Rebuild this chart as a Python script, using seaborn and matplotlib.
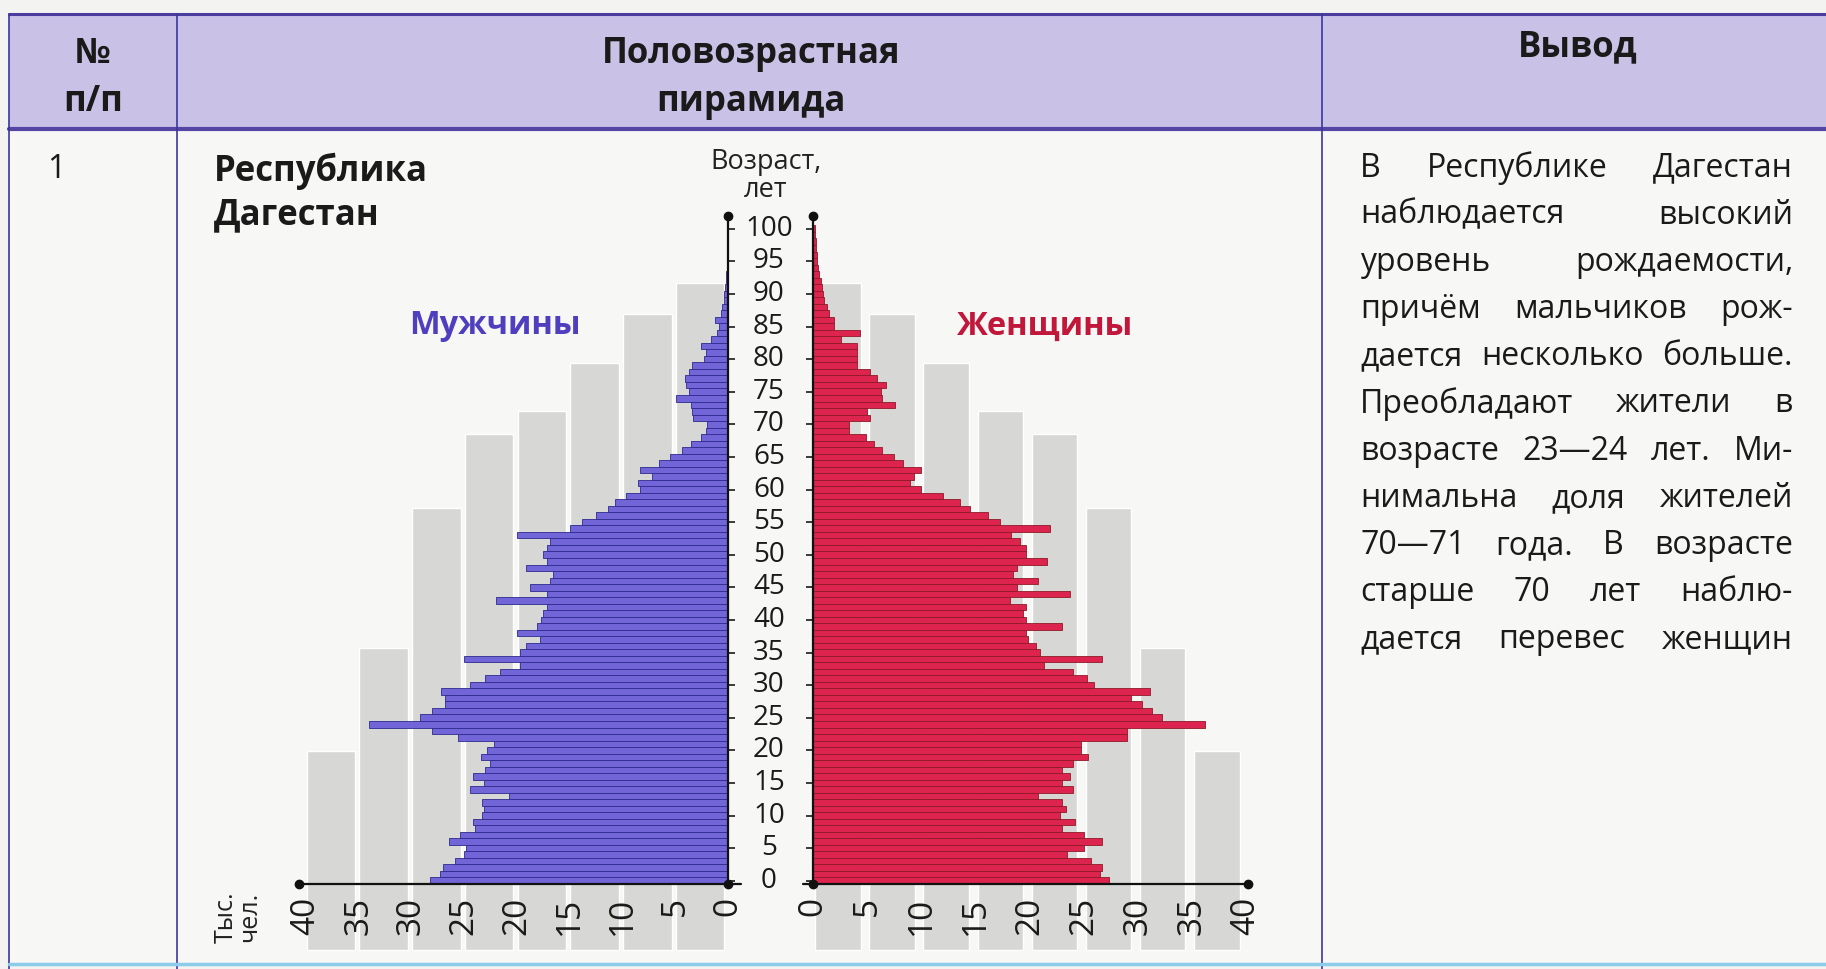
import numpy as np
import pandas as pd
import seaborn as sns
import matplotlib
matplotlib.use('Agg')
import matplotlib.pyplot as plt
from matplotlib import transforms
from matplotlib.patches import Rectangle

# --- data (thousand people per one-year age group)
ages = list(range(101))
male = [28.2, 27.3, 27.0, 25.9, 25.0, 24.8, 26.4, 25.4, 24.0, 24.2,
        23.3, 23.1, 23.3, 20.8, 24.5, 23.1, 24.2, 23.0, 22.6, 23.4,
        22.8, 22.2, 25.6, 28.1, 34.0, 29.2, 28.1, 26.8, 26.8, 27.2,
        24.5, 23.0, 21.6, 19.7, 25.0, 19.7, 19.1, 17.8, 20.0, 18.1,
        17.7, 17.5, 17.2, 22.0, 17.2, 18.8, 16.9, 16.6, 19.1, 17.2,
        17.5, 17.2, 16.9, 20.0, 15.0, 13.8, 12.5, 11.4, 10.7, 9.7,
        8.3, 8.5, 7.2, 8.3, 6.5, 5.5, 4.4, 3.5, 2.6, 2.1,
        2.0, 3.3, 3.4, 3.5, 4.9, 3.7, 4.0, 4.1, 3.7, 3.4,
        2.3, 2.1, 2.6, 1.6, 1.0, 0.9, 1.2, 0.7, 0.6, 0.4,
        0.35, 0.3, 0.2, 0.15, 0.1, 0.1, 0.1, 0.05, 0.05, 0.05, 0.05]
female = [27.3, 26.5, 26.7, 25.7, 23.5, 25.0, 26.7, 25.0, 23.0, 24.2,
          22.8, 23.4, 23.0, 20.8, 24.0, 23.0, 23.7, 23.0, 24.0, 25.4,
          24.8, 24.8, 29.0, 29.0, 36.2, 32.2, 31.3, 30.4, 29.4, 31.1,
          26.0, 25.3, 24.0, 21.3, 26.7, 21.0, 20.6, 19.9, 19.7, 23.0,
          19.7, 19.4, 19.7, 18.2, 23.7, 18.8, 20.8, 18.5, 18.8, 21.6,
          19.7, 19.7, 19.1, 18.3, 21.9, 17.3, 16.2, 14.5, 13.6, 12.0,
          10.0, 9.0, 9.3, 10.0, 8.3, 7.5, 6.4, 5.6, 4.9, 3.3,
          3.3, 5.3, 5.0, 7.6, 6.4, 6.3, 6.7, 5.9, 5.3, 4.1,
          4.1, 4.1, 4.1, 2.6, 4.3, 1.9, 1.9, 1.5, 1.3, 1.0,
          0.9, 0.8, 0.7, 0.6, 0.5, 0.4, 0.4, 0.3, 0.3, 0.2, 0.2]
x_ticks = [0, 5, 10, 15, 20, 25, 30, 35, 40]
age_ticks = list(range(0, 101, 5))
# decorative grey columns behind the pyramid: 5-unit bands and their top age
col_start = [0, 5, 10, 15, 20, 25, 30, 35]
col_top = [91.7, 86.9, 79.4, 72.0, 68.5, 57.2, 35.7, 19.9]

head_num = '№\nп/п'
head_pyr = 'Половозрастная\nпирамида'
head_out = 'Вывод'
region = 'Республика\nДагестан'
summary = ['В Республике Дагестан',
           'наблюдается высокий',
           'уровень рождаемости,',
           'причём мальчиков рож-',
           'дается несколько больше.',
           'Преобладают жители в',
           'возрасте 23—24 лет. Ми-',
           'нимальна доля жителей',
           '70—71 года. В возрасте',
           'старше 70 лет наблю-',
           'дается перевес женщин']

df = pd.DataFrame({'age': ages, 'male': male, 'female': female})

sns.set_style('white')
plt.rcParams['font.family'] = ['Open Sans', 'DejaVu Sans']

W, H = 1826, 969
fig = plt.figure(figsize=(W / 100, H / 100), dpi=100)
fig.patch.set_facecolor('#f3f3f1')

# --- table frame in pixel coordinates
bg = fig.add_axes([0, 0, 1, 1])
bg.set_xlim(0, W)
bg.set_ylim(H, 0)
bg.axis('off')
bg.add_patch(Rectangle((9, 14), W - 9, 115, color='#c9c2e6', zorder=0))
bg.add_patch(Rectangle((9, 129), W - 9, 835, color='#f7f7f5', zorder=0))
bg.plot([9, W], [14, 14], color='#4b3d9e', lw=2.2)
bg.plot([9, W], [129, 129], color='#5546a6', lw=3)
for xv in [9, 177, 1322]:
    bg.plot([xv, xv], [14, H], color='#3b35a0', lw=1.2)
bg.plot([9, W], [964, 964], color='#8ccbea', lw=2.5)

hkw = dict(fontsize=25, fontweight='bold', color='#1a1a1a', ha='center', va='center',
           linespacing=1.45)
bg.text(93, 78, head_num, **hkw)
bg.text(751, 78, head_pyr, **hkw)
bg.text(1578, 47, head_out, **hkw)
bg.text(47, 169, '1', fontsize=23, color='#1a1a1a', va='center')
bg.text(214, 193, region, fontsize=25, fontweight='bold', color='#1a1a1a',
        va='center', linespacing=1.3)
bg.text(766, 176, 'Возраст,\nлет', fontsize=19.5, color='#222222', ha='center',
        va='center', linespacing=1.0)
bg.text(238, 917, 'Тыс.\nчел.', fontsize=18, color='#222222', ha='center',
        va='center', rotation=90, linespacing=0.95)
bg.text(495, 326, 'Мужчины', fontsize=23.5, fontweight='bold', color='#4f3fbf',
        ha='center', va='center')
bg.text(1045, 326, 'Женщины', fontsize=23.5, fontweight='bold', color='#c0173a',
        ha='center', va='center')

# justified summary text
renderer = fig.canvas.get_renderer()
x0, x1 = 1360, 1793
for i, line in enumerate(summary):
    y = 168 + 47.2 * i
    words = line.split()
    objs = [bg.text(0, y, w, fontsize=23, color='#1a1a1a', va='center') for w in words]
    widths = [o.get_window_extent(renderer).width for o in objs]
    gap = (x1 - x0 - sum(widths)) / max(len(words) - 1, 1)
    xx = x0
    for o, wd in zip(objs, widths):
        o.set_x(xx)
        xx += wd + gap

# --- pyramid axes
bot, top = 884, 216
ylo, yhi = -0.5, 101.95
ax_m = fig.add_axes([306 / W, 1 - bot / H, 422 / W, (bot - top) / H])
ax_f = fig.add_axes([813 / W, 1 - bot / H, 433 / W, (bot - top) / H])

col_base = -10.6
for ax, shift, cw in ((ax_m, 2.65, 4.6), (ax_f, 2.3, 4.2)):
    ax.set_facecolor('none')
    ax.bar([c + shift for c in col_start], [t - col_base for t in col_top],
           bottom=col_base, width=cw, color='#d7d7d5', zorder=0, clip_on=False)

sns.barplot(data=df, x='male', y='age', orient='y', native_scale=True, ax=ax_m,
            color='#7165d8', saturation=1, width=1.0, edgecolor='#2d2a8f',
            linewidth=0.6, errorbar=None, zorder=2)
sns.barplot(data=df, x='female', y='age', orient='y', native_scale=True, ax=ax_f,
            color='#dc244e', saturation=1, width=1.0, edgecolor='#8e1a26',
            linewidth=0.6, errorbar=None, zorder=2)

ax_m.set_xlim(40, 0)
ax_f.set_xlim(0, 40)
for ax in (ax_m, ax_f):
    ax.set_ylim(ylo, yhi)
    ax.set_xlabel('')
    ax.set_ylabel('')
    for s in ax.spines.values():
        s.set_visible(False)
    ax.set_xticks(x_ticks)
    ax.set_xticklabels([str(v) for v in x_ticks], rotation=90)
    ax.tick_params(axis='x', length=0, pad=9, labelsize=24, labelcolor='#1a1a1a')
    ax.set_yticks(age_ticks)
    ax.set_yticklabels([])
    ax.tick_params(axis='y', length=5, width=1.2, direction='out', color='#1a1a1a')
    ax.grid(False)
ax_m.yaxis.tick_right()
ax_f.yaxis.tick_left()
ax_m.set_yticklabels([])
ax_f.set_yticklabels([])

lk = dict(color='#111111', lw=1.6, clip_on=False, zorder=5)
dk = dict(color='#111111', marker='o', ms=6, ls='none', clip_on=False, zorder=6)
ax_m.plot([40.7, -1.2], [ylo, ylo], **lk)
ax_m.plot([0, 0], [ylo, yhi], **lk)
ax_m.plot([40.7, 0, 0], [ylo, ylo, yhi], **dk)
ax_f.plot([-0.9, 40.2], [ylo, ylo], **lk)
ax_f.plot([0, 0], [ylo, yhi], **lk)
ax_f.plot([40.2, 0, 0], [ylo, ylo, yhi], **dk)

# age labels between the two halves
trans = transforms.blended_transform_factory(bg.transData, ax_f.transData)
for a in age_ticks:
    ax_f.text(769, a, str(a), transform=trans, ha='center', va='center',
              fontsize=20, color='#1a1a1a', clip_on=False)

fig.savefig('out.png', dpi=100, facecolor=fig.get_facecolor())
